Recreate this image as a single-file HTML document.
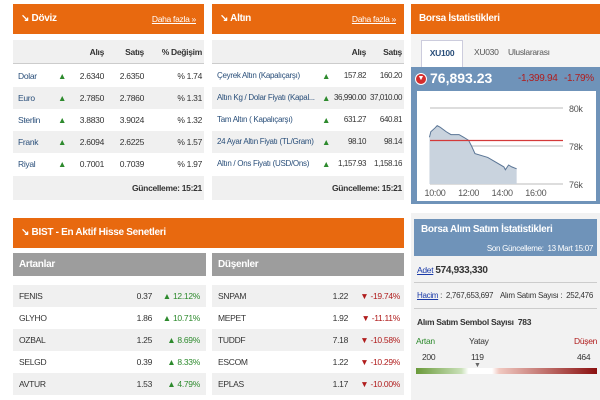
<!DOCTYPE html>
<html><head><meta charset="utf-8"><style>
*{margin:0;padding:0;box-sizing:border-box}
body{width:600px;height:400px;background:#fff;font-family:"Liberation Sans",sans-serif;font-size:8.5px;letter-spacing:-0.3px;color:#333;position:relative;overflow:hidden}
div,span{white-space:nowrap}
.a{position:absolute}
.hd{background:#e8690f;color:#fff;font-weight:bold;font-size:10px;height:30px;line-height:30px;padding-left:8px}
.more{position:absolute;right:8px;top:0;font-size:8.5px;text-decoration:underline;color:#fff;font-weight:normal}
.row{position:absolute;height:22px;line-height:22px}
.g{background:#f0f0f0}
.up{color:#2d8a2d}.dn{color:#b01d1d}
.c{position:absolute;top:0}
.r{text-align:right}
.blue{color:#2a4f7a}
</style></head><body>

<!-- Doviz -->
<div class="a" style="left:13px;top:4px;width:191px;height:196px">
 <div class="hd">&#8600; Döviz<span class="more">Daha fazla »</span></div>
 <div class="row g" style="top:36px;width:191px;height:24px;line-height:24px;border-bottom:1px solid #ccc;font-weight:bold">
  <span class="c r" style="right:100px">Alış</span><span class="c r" style="right:60px">Satış</span><span class="c r" style="right:2px">% Değişim</span></div>
 <div id="dov"></div>
 <div class="row g r" style="top:172px;width:191px;height:24px;line-height:24px;padding-right:2px;font-weight:bold">Güncelleme: 15:21</div>
</div>

<!-- Altin -->
<div class="a" style="left:212px;top:4px;width:192px;height:196px">
 <div class="hd">&#8600; Altın<span class="more">Daha fazla »</span></div>
 <div class="row g" style="top:36px;width:192px;height:24px;line-height:24px;border-bottom:1px solid #ccc;font-weight:bold">
  <span class="c r" style="right:38px">Alış</span><span class="c r" style="right:2px">Satış</span></div>
 <div id="alt"></div>
 <div class="row g r" style="top:172px;width:192px;height:24px;line-height:24px;padding-right:2px;font-weight:bold">Güncelleme: 15:21</div>
</div>

<!-- Borsa -->
<div class="a" style="left:411px;top:4px;width:191px;height:200px;background:#f4f4f4">
 <div class="hd">Borsa İstatistikleri</div>
 <div class="a" style="left:10px;top:36px;width:42px;height:27px;background:#fff;border:1px solid #ccd;border-bottom:none;text-align:center;line-height:24px;color:#2a4f7a;font-weight:bold">XU100</div>
 <div class="a" style="left:63px;top:36px;line-height:24px;color:#555">XU030</div>
 <div class="a" style="left:97px;top:36px;line-height:24px;color:#555">Uluslararası</div>
 <div class="a" style="left:0;top:63px;width:191px;height:137px;background:#6f93b9">
  <div class="a" style="left:4px;top:6px;width:12px;height:12px;border-radius:6px;background:#d42d2d;border:1px solid #fff;color:#fff;font-size:7px;text-align:center;line-height:10px;letter-spacing:0">▼</div>
  <div class="a" style="left:19px;top:3px;color:#fff;font-weight:bold;font-size:14px;letter-spacing:0">76,893.23</div>
  <div class="a" style="left:107px;top:6px;color:#b01d1d;font-size:10px">-1,399.94</div>
  <div class="a" style="left:153px;top:6px;color:#b01d1d;font-size:10px">-1.79%</div>
  <svg class="a" style="left:6px;top:24px" width="179" height="110" id="chart"></svg>
 </div>
</div>

<!-- BIST -->
<div class="a" style="left:13px;top:218px;width:391px;height:182px">
 <div class="hd">&#8600; BIST - En Aktif Hisse Senetleri</div>
 <div class="a" style="left:0;top:35px;width:193px;height:23px;background:#9d9d9d;color:#fff;font-weight:bold;font-size:10px;line-height:23px;padding-left:6px">Artanlar</div>
 <div class="a" style="left:199px;top:35px;width:192px;height:23px;background:#9d9d9d;color:#fff;font-weight:bold;font-size:10px;line-height:23px;padding-left:6px">Düşenler</div>
 <div id="bist"></div>
</div>

<!-- Alim satim -->
<div class="a" style="left:411px;top:213px;width:191px;height:187px;background:#f2f2f2">
 <div class="a" style="left:3px;top:6px;width:183px;height:37px;background:#6f93b9;color:#fff">
  <div class="a" style="left:7px;top:5px;font-weight:bold;font-size:10px">Borsa Alım Satım İstatistikleri</div>
  <div class="a" style="right:4px;top:25px;font-size:8px">Son Güncelleme:&nbsp; 13 Mart 15:07</div></div>
 <div class="a" style="left:6px;top:52px"><u style="color:#1a3aa8">Adet</u> <b style="font-size:10px">574,933,330</b></div>
 <div class="a" style="left:3px;top:69px;width:183px;border-top:1px solid #ccc"></div>
 <div class="a" style="left:6px;top:78px;font-size:8px"><u style="color:#1a3aa8">Hacim</u> :&nbsp; 2,767,653,697</div>
 <div class="a" style="left:89px;top:78px;font-size:8px">Alım Satım Sayısı :&nbsp; 252,476</div>
 <div class="a" style="left:3px;top:95px;width:183px;border-top:1px solid #ccc"></div>
 <div class="a" style="left:6px;top:104px;font-weight:bold">Alım Satım Sembol Sayısı&nbsp; 783</div>
 <div class="a up" style="left:5px;top:123px">Artan</div>
 <div class="a" style="left:58px;top:123px">Yatay</div>
 <div class="a dn" style="left:163px;top:123px">Düşen</div>
 <div class="a" style="left:11px;top:139px">200</div>
 <div class="a" style="left:60px;top:139px">119</div>
 <div class="a" style="left:166px;top:139px">464</div>
 <div class="a" style="left:5px;top:155px;width:181px;height:6px;background:linear-gradient(90deg,#6a9a3a,#c9e0b8 25%,#fff 29%,#fff 42%,#f0c8c0 46%,#8a1010)"></div>
 <div class="a" style="left:63px;top:149px;color:#666;font-size:7px">▼</div>
</div>

<script>
const dovNames=["Dolar","Euro","Sterlin","Frank","Riyal"];
const dovBuy=["2.6340","2.7850","3.8830","2.6094","0.7001"];
const dovSell=["2.6350","2.7860","3.9024","2.6225","0.7039"];
const dovPct=["% 1.74","% 1.31","% 1.32","% 1.57","% 1.97"];
const altNames=["Çeyrek Altın (Kapalıçarşı)","Altın Kg / Dolar Fiyatı (Kapal...","Tam Altın ( Kapalıçarşı)","24 Ayar Altın Fiyatı (TL/Gram)","Altın / Ons Fiyatı (USD/Ons)"];
const altBuy=["157.82","36,990.00","631.27","98.10","1,157.93"];
const altSell=["160.20","37,010.00","640.81","98.14","1,158.16"];
const upNames=["FENIS","GLYHO","OZBAL","SELGD","AVTUR"];
const upPrice=["0.37","1.86","1.25","0.39","1.53"];
const upPct=["12.12%","10.71%","8.69%","8.33%","4.79%"];
const dnNames=["SNPAM","MEPET","TUDDF","ESCOM","EPLAS"];
const dnPrice=["1.22","1.92","7.18","1.22","1.17"];
const dnPct=["-19.74%","-11.11%","-10.58%","-10.29%","-10.00%"];
const times=[9.67,9.75,10,10.13,10.29,10.67,10.95,11.43,11.71,12.0,12.19,12.38,13.14,14.1,14.19,14.38,14.57,14.86];
const values=[78.46,78.75,78.95,79.07,79.0,78.75,78.6,78.6,78.46,78.3,77.97,77.6,77.4,76.9,76.75,77.0,76.9,76.8];
const prevClose=78.29;
const yTicks=[80,78,76];
const xTicks=["10:00","12:00","14:00","16:00"];
const xTickVals=[10,12,14,16];

function mk(parent,html,style,name,inter){const d=document.createElement('div');d.innerHTML=html;d.style.cssText=style;parent.appendChild(d);

return d;}
const dov=document.getElementById('dov');
dovNames.forEach((n,i)=>{const r=mk(dov,'<span class="c blue" style="left:5px">'+n+'</span><span class="c up" style="left:45px">▲</span><span class="c r" style="right:100px">'+dovBuy[i]+'</span><span class="c r" style="right:60px">'+dovSell[i]+'</span><span class="c r" style="right:2px">'+dovPct[i]+'</span>','top:'+(61+i*22)+'px;width:191px','doviz-row','false');r.className='row'+(i%2?' g':'');});
const alt=document.getElementById('alt');
altNames.forEach((n,i)=>{const r=mk(alt,'<span class="c blue" style="left:5px;width:100px;overflow:hidden;font-size:8px">'+n+'</span><span class="c up" style="left:110px">▲</span><span class="c r" style="right:38px;font-size:8px;letter-spacing:-0.4px">'+altBuy[i]+'</span><span class="c r" style="right:2px;font-size:8px;letter-spacing:-0.4px">'+altSell[i]+'</span>','top:'+(61+i*22)+'px;width:192px','altin-row','false');r.className='row'+(i%2?' g':'');});
const bist=document.getElementById('bist');
upNames.forEach((n,i)=>{const r=mk(bist,'<span class="c" style="left:6px">'+n+'</span><span class="c r" style="right:54px">'+upPrice[i]+'</span><span class="c r up" style="right:6px">▲ '+upPct[i]+'</span>','top:'+(67+i*22)+'px;left:0;width:193px','artanlar-row','false');r.className='row'+(i%2?'':' g');});
dnNames.forEach((n,i)=>{const r=mk(bist,'<span class="c" style="left:6px">'+n+'</span><span class="c r" style="right:56px">'+dnPrice[i]+'</span><span class="c r dn" style="right:4px">▼ '+dnPct[i]+'</span>','top:'+(67+i*22)+'px;left:199px;width:192px','dusenler-row','false');r.className='row'+(i%2?'':' g');});

const svg=document.getElementById('chart');const NS='http://www.w3.org/2000/svg';
svg.innerHTML='<rect width="179" height="110" fill="#fff"/>';
const X=t=>18+(t-10)*16.8, Y=v=>55-(v-78)*19;
function el(tag,attrs,name){const e=document.createElementNS(NS,tag);for(const k in attrs)e.setAttribute(k,attrs[k]);

svg.appendChild(e);return e;}
yTicks.forEach(v=>{el('line',{x1:13,x2:146,y1:Y(v),y2:Y(v),stroke:'#bbb','stroke-width':1},'y-gridline');const t=el('text',{x:152,y:Y(v)+4,'font-size':9,fill:'#555','font-family':'Liberation Sans'},'y-tick-label');t.textContent=v+'k';});
let pts=times.map((t,i)=>X(t)+','+Y(values[i])).join(' ');
el('polygon',{points:X(times[0])+','+Y(76)+' '+pts+' '+X(times[times.length-1])+','+Y(76),fill:'#c9d3de'},'area-fill');
el('polyline',{points:pts,fill:'none',stroke:'#5a7595','stroke-width':1},'xu100-line');
el('line',{x1:13,x2:146,y1:Y(prevClose),y2:Y(prevClose),stroke:'#d43a3a','stroke-width':1.3},'previous-close-line');
xTicks.forEach((s,i)=>{const t=el('text',{x:X(xTickVals[i]),y:Y(76)+12,'font-size':9,fill:'#555','text-anchor':'middle','font-family':'Liberation Sans'},'x-tick-label');t.textContent=s;});
</script>
</body></html>
